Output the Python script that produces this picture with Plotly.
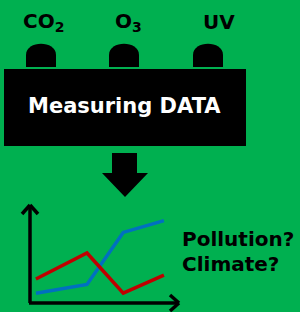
import plotly.graph_objects as go

# Sensor labels
sensor_labels = ["CO<sub>2</sub>", "O<sub>3</sub>", "UV"]
sensor_x = [43, 128, 219]

# Illustrative line-chart series (inset units, 0-10)
series_x = [0.4, 3.85, 6.3, 9.05]
blue_vals = [1.0, 1.9, 7.2, 8.4]
red_vals = [2.45, 5.1, 1.0, 2.85]

questions = ["Pollution?", "Climate?"]

GREEN = "#00B050"
FONT = "DejaVu Sans"

fig = go.Figure()

fig.add_trace(go.Scatter(x=series_x, y=blue_vals, mode="lines",
                         line=dict(color="#0070C0", width=3.5),
                         xaxis="x2", yaxis="y2", hoverinfo="skip"))
fig.add_trace(go.Scatter(x=series_x, y=red_vals, mode="lines",
                         line=dict(color="#C00000", width=3.5),
                         xaxis="x2", yaxis="y2", hoverinfo="skip"))

shapes = []
# domes
for cx in [41, 124, 208]:
    l, r = cx - 15, cx + 15
    shapes.append(dict(type="path", xref="x", yref="y",
                       path=f"M {l} 67 L {l} 55 C {l} 40 {r} 40 {r} 55 L {r} 67 Z",
                       fillcolor="black", line=dict(width=0), layer="below"))
# black box
shapes.append(dict(type="rect", xref="x", yref="y", x0=4, x1=246, y0=69, y1=146,
                   fillcolor="black", line=dict(width=0), layer="below"))
# down arrow
shapes.append(dict(type="path", xref="x", yref="y",
                   path="M 112 153 L 137 153 L 137 173 L 148 173 L 125 197 L 102 173 L 112 173 Z",
                   fillcolor="black", line=dict(width=0), layer="below"))
# chart axes
shapes.append(dict(type="line", xref="x", yref="y", x0=30, y0=205, x1=30, y1=303,
                   line=dict(color="black", width=3.5), layer="below"))
shapes.append(dict(type="line", xref="x", yref="y", x0=29, y0=303, x1=179, y1=303,
                   line=dict(color="black", width=3.5), layer="below"))
for (x0, y0, x1, y1) in [(22, 214, 30, 205), (38, 214, 30, 205),
                         (170, 295, 179, 303), (170, 311, 179, 303)]:
    shapes.append(dict(type="line", xref="x", yref="y", x0=x0, y0=y0, x1=x1, y1=y1,
                       line=dict(color="black", width=3.5), layer="below"))

annotations = []
for lab, x in zip(sensor_labels, sensor_x):
    annotations.append(dict(x=x, y=22, xref="x", yref="y", text=f"<b>{lab}</b>",
                            showarrow=False, xanchor="center", yanchor="middle",
                            font=dict(family=FONT, size=20, color="black")))
annotations.append(dict(x=124, y=106, xref="x", yref="y", text="<b>Measuring DATA</b>",
                        showarrow=False, xanchor="center", yanchor="middle",
                        font=dict(family=FONT, size=21, color="white")))
for q, y in zip(questions, [239, 264]):
    annotations.append(dict(x=180, y=y, xref="x", yref="y", text=f"<b>{q}</b>",
                            showarrow=False, xanchor="left", yanchor="middle",
                            font=dict(family=FONT, size=20, color="black")))

hidden = dict(visible=False, showgrid=False, zeroline=False, fixedrange=True)
fig.update_layout(
    width=300, height=312, margin=dict(l=0, r=0, t=0, b=0),
    paper_bgcolor=GREEN, plot_bgcolor="rgba(0,0,0,0)", showlegend=False,
    xaxis=dict(range=[0, 300], domain=[0, 1], **hidden),
    yaxis=dict(range=[312, 0], domain=[0, 1], **hidden),
    xaxis2=dict(range=[0, 10], domain=[30 / 300, 178 / 300], anchor="y2", **hidden),
    yaxis2=dict(range=[0, 10], domain=[1 - 303 / 312, 1 - 205 / 312], anchor="x2", **hidden),
    shapes=shapes, annotations=annotations,
)

fig.write_html("out.html", config={"displayModeBar": False},
               post_script="document.body.style.margin='0';document.body.style.background='" + GREEN + "';")
